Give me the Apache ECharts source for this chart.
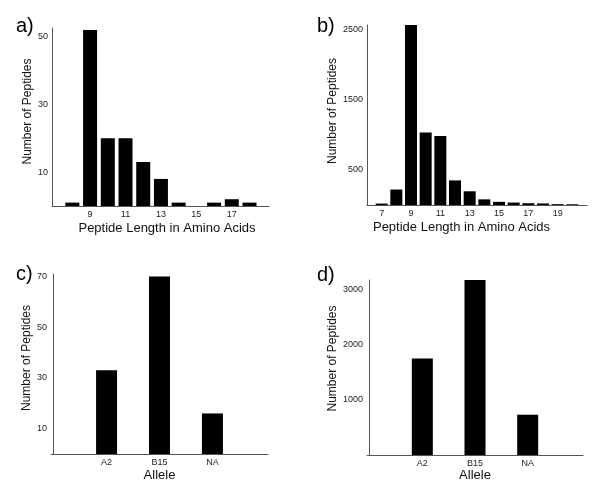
<!DOCTYPE html>
<html>
<head>
<meta charset="utf-8">
<script src="https://cdn.jsdelivr.net/npm/echarts@6/dist/echarts.min.js"></script>
<style>
html,body{margin:0;padding:0;background:#fff;}
#chart{width:600px;height:490px;}
</style>
</head>
<body>
<div id="chart"></div>
<script>
// Panel a: peptide length distribution (small set)
var lengthsA = [8, 9, 10, 11, 12, 13, 14, 15, 16, 17, 18];
var countsA = [1, 52, 20, 20, 13, 8, 1, 0, 1, 2, 1];
var tickLabelsA = [9, 11, 13, 15, 17];
var yTicksA = [10, 30, 50];

// Panel b: peptide length distribution (large set)
var lengthsB = [7, 8, 9, 10, 11, 12, 13, 14, 15, 16, 17, 18, 19, 20];
var countsB = [20, 220, 2560, 1030, 980, 350, 195, 80, 45, 35, 25, 22, 12, 10];
var tickLabelsB = [7, 9, 11, 13, 15, 17, 19];
var yTicksB = [500, 1500, 2500];

// Panels c and d: alleles
var alleles = ['A2', 'B15', 'NA'];
var countsC = [33, 70, 16];
var yTicksC = [10, 30, 50, 70];
var countsD = [1750, 3170, 730];
var yTicksD = [1000, 2000, 3000];

var xTitleLength = 'Peptide Length in Amino Acids';
var xTitleAllele = 'Allele';
var yTitle = 'Number of Peptides';
var panelLabels = ['a)', 'b)', 'c)', 'd)'];

var FONT = 'Liberation Sans, Arial, sans-serif';
var axisColor = '#555';

function pairs(xs, ys) { return xs.map(function (x, i) { return [x, ys[i]]; }); }
var plainFmt = function (v) { return String(v); };

function xAxis(idx, min, max, ticks, title, gap, pad, fmt) {
  return {
    type: 'value', gridIndex: idx, min: min, max: max,
    splitLine: { show: false },
    axisLine: { show: true, onZero: false, lineStyle: { color: axisColor, width: 1 } },
    axisTick: { show: false },
    axisLabel: { customValues: ticks, fontSize: 9, color: '#222', fontFamily: FONT, margin: 4,
      formatter: fmt || plainFmt },
    name: title, nameLocation: 'middle', nameGap: gap,
    nameTextStyle: { fontSize: 13, color: '#111', fontFamily: FONT, padding: pad }
  };
}
function yAxis(idx, max, ticks, gap, pad) {
  return {
    type: 'value', gridIndex: idx, min: 0, max: max,
    splitLine: { show: false },
    axisLine: { show: true, lineStyle: { color: axisColor, width: 1 } },
    axisTick: { show: false },
    axisLabel: { customValues: ticks, fontSize: 9, color: '#222', fontFamily: FONT, margin: 4,
      formatter: plainFmt },
    name: yTitle, nameLocation: 'middle', nameGap: gap,
    nameTextStyle: { fontSize: 12, color: '#111', fontFamily: FONT, padding: pad }
  };
}
function bar(idx, data, w) {
  return { type: 'bar', xAxisIndex: idx, yAxisIndex: idx, data: data, barWidth: w,
    itemStyle: { color: '#000' }, silent: true, animation: false };
}
var alleleFmt = function (v) { return alleles[Math.round(v) - 1] || ''; };

var option = {
  backgroundColor: '#fff',
  animation: false,
  grid: [
    { left: 52, top: 28, width: 217, height: 178 },
    { left: 367, top: 25, width: 220, height: 180 },
    { left: 51, top: 274, width: 217, height: 180 },
    { left: 367, top: 280, width: 216, height: 175 }
  ],
  xAxis: [
    xAxis(0, 6.85, 19.1, tickLabelsA, xTitleLength, 16, [0, 0, 0, 13]),
    xAxis(1, 6, 21, tickLabelsB, xTitleLength, 16, [0, 31, 0, 0]),
    xAxis(2, -0.05, 4.05, [1, 2, 3], xTitleAllele, 15, [0, 0, 0, 0], alleleFmt),
    xAxis(3, -0.05, 4.05, [1, 2, 3], xTitleAllele, 14, [0, 0, 0, 0], alleleFmt)
  ],
  yAxis: [
    yAxis(0, 52.6, yTicksA, 17, [0, 0, 0, 11]),
    yAxis(1, 2560, yTicksB, 25.7, [0, 0, 0, 8]),
    yAxis(2, 71, yTicksC, 18, [0, 0, 0, 12]),
    yAxis(3, 3170, yTicksD, 27.7, [0, 0, 0, 18])
  ],
  series: [
    bar(0, pairs(lengthsA, countsA), 14),
    bar(1, pairs(lengthsB, countsB), 12),
    bar(2, pairs([1, 2, 3], countsC), 21),
    bar(3, pairs([1, 2, 3], countsD), 21)
  ],
  graphic: [
    { type: 'text', left: 16, top: 16, style: { text: panelLabels[0], fontSize: 20, fontFamily: FONT, fill: '#000' } },
    { type: 'text', left: 317, top: 16, style: { text: panelLabels[1], fontSize: 20, fontFamily: FONT, fill: '#000' } },
    { type: 'text', left: 16, top: 264, style: { text: panelLabels[2], fontSize: 20, fontFamily: FONT, fill: '#000' } },
    { type: 'text', left: 317, top: 265, style: { text: panelLabels[3], fontSize: 20, fontFamily: FONT, fill: '#000' } }
  ]
};

var chart = echarts.init(document.getElementById('chart'), null, { renderer: 'canvas' });
chart.setOption(option);
</script>
</body>
</html>
